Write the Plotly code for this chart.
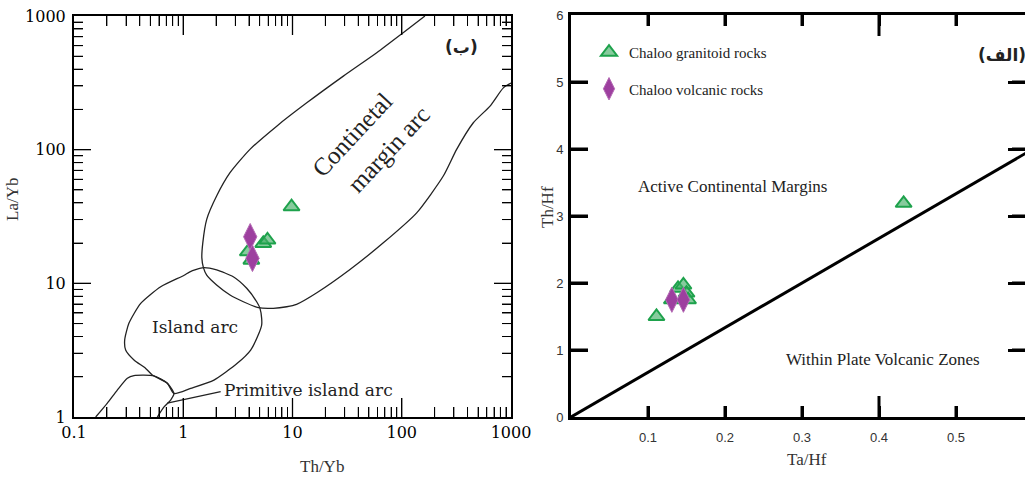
import math
import plotly.graph_objects as go

# ---------------- data ----------------
# Left diagram (Th/Yb vs La/Yb, log-log)
left_gran_th_yb = [9.8, 5.4, 5.9, 3.9, 4.2]
left_gran_la_yb = [37.4, 19.9, 21.1, 17.2, 14.9]
left_volc_th_yb = [4.1, 4.3]
left_volc_la_yb = [22.3, 15.4]

# field boundaries (Th/Yb, La/Yb)
cont_arc_th = [163, 103, 59, 29.2, 13.5, 7.17, 4.08, 2.68, 2.02, 1.64, 1.51, 1.48, 1.53,
               1.64, 2.02, 2.68, 3.55, 4.86, 6.67, 8.85, 10.9, 16.7, 33.6, 67.8, 137, 240,
               318, 452, 643, 851, 1000]
cont_arc_la = [1000, 749, 531, 355, 224, 150, 100.5, 67.2, 45, 30.1, 20.1, 15.5, 13.1,
               11.5, 9.71, 8.18, 7.28, 6.57, 6.50, 6.68, 6.97, 8.51, 12.7, 20.1, 33.7, 63.5,
               100.5, 159, 212, 290, 315]
island_arc_th = [1.53, 1.15, 1.02, 0.622, 0.408, 0.318, 0.291, 0.297, 0.354, 0.453, 0.521,
                 0.715, 0.822, 1.17, 1.91, 3.12, 4.14, 4.93, 5.22, 5.22, 5.04, 4.70, 3.81,
                 2.87, 2.02, 1.53]
island_arc_la = [13.1, 12.2, 11.5, 9.43, 7.08, 5.02, 3.77, 3.17, 2.67, 2.31, 2.06,
                 1.79, 1.50, 1.64, 1.89, 2.52, 3.17, 4.23, 4.88, 5.47, 6.50, 7.28, 9.18,
                 11.2, 12.6, 13.1]
prim_arc_th = [0.158, 0.202, 0.249, 0.308, 0.354, 0.540, 0.715, 0.822, 0.767, 0.667, 0.579]
prim_arc_la = [1.0, 1.27, 1.59, 1.95, 2.04, 2.03, 1.79, 1.50, 1.34, 1.19, 1.0]
leader_th = [0.715, 2.20]
leader_la = [1.27, 1.55]

# Right diagram (Ta/Hf vs Th/Hf)
right_gran_ta_hf = [0.432, 0.111, 0.139, 0.146, 0.150, 0.131, 0.152]
right_gran_th_hf = [3.19, 1.50, 1.92, 1.97, 1.85, 1.75, 1.75]
right_volc_ta_hf = [0.131, 0.146]
right_volc_th_hf = [1.75, 1.75]
boundary_ta_hf = [0, 0.6]
boundary_th_hf = [0, 4.0]

# ticks
left_x_ticks = [0.1, 1, 10, 100, 1000]
left_y_ticks = [1, 10, 100, 1000]
minor_digits = [2, 3, 4, 5, 6, 7, 8, 9]
right_x_ticks = [0.1, 0.2, 0.3, 0.4, 0.5]
right_x_labels = ["0.1", "0.2", "0.3", "0.4", "0.5"]
right_x_long_tick = 0.4
right_y_ticks = [0, 1, 2, 3, 4, 5, 6]

# ---------------- styles ----------------
TRI_FILL = "rgba(70,175,105,0.65)"
TRI_LINE = "#1ea24c"
DIA_FILL = "#9d3f9f"
DIA_LINE = "#b46ab4"
SERIF = "Liberation Serif"
WSERIF = "DejaVu Serif"

# pixel geometry of the two frames
L_W, L_H = 437.0, 401.0
R_W, R_H = 454.0, 402.0

fig = go.Figure()

line_style = dict(color="#222", width=1.3, shape="spline", smoothing=0.6)
for xs, ys in [(cont_arc_th, cont_arc_la), (island_arc_th, island_arc_la),
               (prim_arc_th, prim_arc_la)]:
    fig.add_trace(go.Scatter(x=xs, y=ys, mode="lines", line=line_style,
                             showlegend=False, hoverinfo="skip", xaxis="x", yaxis="y"))
fig.add_trace(go.Scatter(x=leader_th, y=leader_la, mode="lines",
                         line=dict(color="#222", width=1.3), showlegend=False,
                         hoverinfo="skip", xaxis="x", yaxis="y"))

fig.add_trace(go.Scatter(x=left_gran_th_yb, y=left_gran_la_yb, mode="markers",
                         marker=dict(symbol="triangle-up", size=14, color=TRI_FILL,
                                     line=dict(color=TRI_LINE, width=2)),
                         showlegend=False, xaxis="x", yaxis="y"))
fig.add_trace(go.Scatter(x=left_volc_th_yb, y=left_volc_la_yb, mode="markers",
                         marker=dict(symbol="diamond-tall", size=19, color=DIA_FILL,
                                     line=dict(color=DIA_LINE, width=1)),
                         showlegend=False, xaxis="x", yaxis="y"))

# right diagram
fig.add_trace(go.Scatter(x=boundary_ta_hf, y=boundary_th_hf, mode="lines",
                         line=dict(color="black", width=3), showlegend=False,
                         hoverinfo="skip", xaxis="x2", yaxis="y2"))
fig.add_trace(go.Scatter(x=right_gran_ta_hf, y=right_gran_th_hf, mode="markers",
                         name="Chaloo granitoid rocks", legendgroup="a",
                         marker=dict(symbol="triangle-up", size=14, color=TRI_FILL,
                                     line=dict(color=TRI_LINE, width=2)),
                         xaxis="x2", yaxis="y2"))
fig.add_trace(go.Scatter(x=right_volc_ta_hf, y=right_volc_th_hf, mode="markers",
                         name="Chaloo volcanic rocks", legendgroup="b",
                         marker=dict(symbol="diamond-tall", size=18, color=DIA_FILL,
                                     line=dict(color=DIA_LINE, width=1)),
                         xaxis="x2", yaxis="y2"))

log_axis_common = dict(type="log", tickmode="linear", tick0=0, dtick=1,
                       exponentformat="none", ticks="inside", tickwidth=1.3,
                       tickcolor="black", showline=True, linecolor="black", linewidth=2,
                       mirror="ticks", showgrid=False, zeroline=False,
                       tickfont=dict(family=WSERIF, size=16, color="black"))

fig.update_layout(
    width=1025, height=479, margin=dict(l=0, r=0, t=0, b=0, autoexpand=False),
    paper_bgcolor="white", plot_bgcolor="white",
    xaxis=dict(domain=[74 / 1025, 511 / 1025], range=[-1, 3], ticklen=19, anchor="y",
               minor=dict(dtick="D1", ticks="inside", ticklen=10, tickwidth=1,
                          tickcolor="black", showgrid=False),
               **log_axis_common),
    yaxis=dict(domain=[1 - 417 / 479, 1 - 16 / 479], range=[0, 3], ticklen=17, anchor="x",
               minor=dict(dtick="D1", ticks="inside", ticklen=9, tickwidth=1,
                          tickcolor="black", showgrid=False),
               ticklabelstandoff=3, **log_axis_common),
    xaxis2=dict(domain=[571 / 1025, 1.0], range=[0, R_W / 770], anchor="y2",
                tickvals=right_x_ticks, ticktext=right_x_labels,
                ticks="inside", ticklen=11, tickwidth=3, tickcolor="black",
                showline=True, linecolor="black", linewidth=3, mirror="ticks",
                showgrid=False, zeroline=False,
                tickfont=dict(family="Liberation Sans", size=13, color="#333"),
                ticklabelstandoff=6),
    yaxis2=dict(domain=[1 - 417 / 479, 1 - 15 / 479], range=[0, 6], anchor="x2",
                tickvals=right_y_ticks, ticks="inside", ticklen=17, tickwidth=3,
                tickcolor="black",
                showline=True, linecolor="black", linewidth=3, mirror="ticks",
                showgrid=False, zeroline=False,
                tickfont=dict(family="Liberation Sans", size=13, color="#333"),
                ticklabelstandoff=2),
    legend=dict(x=589 / 1025, y=1 - 36 / 479, xanchor="left", yanchor="top",
                bgcolor="rgba(0,0,0,0)", traceorder="grouped", tracegroupgap=14,
                font=dict(family=SERIF, size=15, color="#222"), itemsizing="trace"),
)

shapes = []


def tick_line(xref, x0, x1, yref, y0, y1, width):
    shapes.append(dict(type="line", xref=xref, yref=yref, x0=x0, x1=x1, y0=y0, y1=y1,
                       layer="above", line=dict(color="black", width=width)))


# left diagram: inside ticks on all four sides (positions from the tick lists)
left_x_minor = [d * dec for dec in left_x_ticks[:-1] for d in minor_digits]
left_y_minor = [d * dec for dec in left_y_ticks[:-1] for d in minor_digits]
for vals, ln, w in [(left_x_ticks[1:-1], 19, 1.3), (left_x_minor, 10, 1.0)]:
    for v in vals:
        f = (math.log10(v) + 1) / 4
        tick_line("x domain", f, f, "y domain", 0, ln / L_H, w)
        tick_line("x domain", f, f, "y domain", 1 - ln / L_H, 1, w)
for vals, ln, w in [(left_y_ticks[1:-1], 17, 1.3), (left_y_minor, 9, 1.0)]:
    for v in vals:
        f = math.log10(v) / 3
        tick_line("x domain", 0, ln / L_W, "y domain", f, f, w)
        tick_line("x domain", 1 - ln / L_W, 1, "y domain", f, f, w)

# right diagram
for v in right_x_ticks:
    ln = 21 if v == right_x_long_tick else 11
    tick_line("x2", v, v, "y2 domain", 0, ln / R_H, 3)
    tick_line("x2", v, v, "y2 domain", 1 - ln / R_H, 1, 3)
for v in right_y_ticks[1:-1]:
    tick_line("x2 domain", 0, 17 / R_W, "y2", v, v, 3)
    tick_line("x2 domain", 1 - 13 / R_W, 1, "y2", v, v, 3)
fig.update_layout(shapes=shapes)


def note(text, x, y, xref, yref, size, family=SERIF, angle=0, xanchor="center",
         color="#222"):
    return dict(text=text, x=x, y=y, xref=xref, yref=yref, xanchor=xanchor,
                yanchor="middle", textangle=angle, showarrow=False,
                font=dict(family=family, size=size, color=color))


ann = [
    note("Island arc", math.log10(1.27), math.log10(4.73), "x", "y", 17, WSERIF),
    note("Primitive island arc", math.log10(2.26), math.log10(1.59), "x", "y", 17, WSERIF,
         xanchor="left"),
    note("Continetal", 1.547, 2.114, "x", "y", 25, angle=-47),
    note("margin arc", 1.877, 2.002, "x", "y", 25, angle=-47),
    note("<b>(ب)</b>", 461.7 / 1025, 1 - 46.7 / 479, "paper", "paper", 17, "DejaVu Sans"),
    note("La/Yb", 12 / 1025, 1 - 200 / 479, "paper", "paper", 17, angle=-90, color="#333"),
    note("Th/Yb", 322 / 1025, 1 - 466 / 479, "paper", "paper", 17, color="#333"),
    note("Active Continental Margins", 0.2108, 3.437, "x2", "y2", 17),
    note("Within Plate Volcanic Zones", 0.405, 0.851, "x2", "y2", 17),
    note("<b>(الف)</b>", 1001.7 / 1025, 1 - 55 / 479, "paper", "paper", 17, "DejaVu Sans"),
    note("Th/Hf", 547 / 1025, 1 - 207 / 479, "paper", "paper", 17, angle=-90, color="#333"),
    note("Ta/Hf", 807 / 1025, 1 - 459 / 479, "paper", "paper", 17, color="#333"),
]
fig.update_layout(annotations=ann)

fig.write_html("out.html")
